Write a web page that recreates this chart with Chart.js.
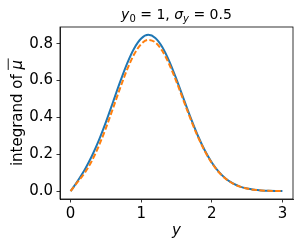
<!doctype html>
<html lang="en">
<head>
  <meta charset="utf-8">
  <title>integrand of mu bar</title>
  <style>
    * { margin: 0; padding: 0; }
    body { background: white; }
    .chartBox { width: 300px; height: 248px; position: relative; }
  </style>
</head>
<body>
<div class="chartBox">
  <canvas id="myChart" width="300" height="248"></canvas>
</div>

<script src="https://cdn.jsdelivr.net/npm/chart.js"></script>
<script>
  // values
  const yValues = [0.0, 0.1, 0.2, 0.3, 0.4, 0.5, 0.6, 0.7, 0.8, 0.9, 1.0,
                   1.1, 1.2, 1.3, 1.4, 1.5, 1.6, 1.7, 1.8, 1.9, 2.0,
                   2.1, 2.2, 2.3, 2.4, 2.5, 2.6, 2.7, 2.8, 2.9, 3.0];
  const exactIntegrand = [0.0, 0.0552, 0.1166, 0.1891, 0.2752, 0.3742, 0.4821, 0.5912, 0.6920, 0.7740, 0.8280,
                          0.8478, 0.8311, 0.7809, 0.7028, 0.6065, 0.5020, 0.3983, 0.3033, 0.2215, 0.1553,
                          0.1045, 0.0675, 0.0418, 0.0249, 0.0142, 0.0078, 0.0041, 0.0021, 0.0010, 0.0005];
  const approxIntegrand = [0.0, 0.0499, 0.0992, 0.1640, 0.2456, 0.3422, 0.4488, 0.5576, 0.6588, 0.7420, 0.7979,
                           0.8203, 0.8068, 0.7599, 0.6855, 0.5927, 0.4913, 0.3904, 0.2976, 0.2177, 0.1527,
                           0.1028, 0.0664, 0.0412, 0.0245, 0.0140, 0.0077, 0.0041, 0.0021, 0.0010, 0.0005];
  const xTicks = [0, 1, 2, 3];
  const yTicks = [0.0, 0.2, 0.4, 0.6, 0.8];

  const FONT = "'DejaVu Sans', sans-serif";

  // draws a list of text runs, {t, italic, sub}, centred on x
  function drawRuns(ctx, runs, x, y, size) {
    ctx.textAlign = 'left';
    ctx.textBaseline = 'alphabetic';
    const fontOf = r => (r.italic ? 'italic ' : '') + Math.round(r.sub ? size * 0.7 : size) + 'px ' + FONT;
    const widths = runs.map(r => {
      ctx.font = fontOf(r);
      return ctx.measureText(r.t).width;
    });
    let cx = x - widths.reduce((a, b) => a + b, 0) / 2;
    runs.forEach((r, i) => {
      ctx.font = fontOf(r);
      ctx.fillText(r.t, cx, r.sub ? y + size * 0.22 : y);
      if (r.bar) {
        ctx.fillRect(cx - 0.5, y - size * 0.95, widths[i] + 2, 0.9);
      }
      cx += widths[i];
    });
  }

  const framePlugin = {
    id: 'frame',
    afterDraw(chart) {
      const { ctx, chartArea: a } = chart;
      ctx.save();
      ctx.strokeStyle = '#000';
      ctx.lineWidth = 0.8;
      ctx.strokeRect(a.left, a.top, a.right - a.left, a.bottom - a.top);
      ctx.fillStyle = '#000';
      const mid = (a.left + a.right) / 2;
      // title
      drawRuns(ctx, [
        { t: 'y', italic: true }, { t: '0', sub: true },
        { t: ' = 1, ' }, { t: 'σ', italic: true }, { t: 'y', italic: true, sub: true },
        { t: ' = 0.5' }
      ], mid, 19, 14);
      // x label
      drawRuns(ctx, [{ t: 'y', italic: true }], mid, 235, 15);
      // y label
      ctx.translate(22, (a.top + a.bottom) / 2);
      ctx.rotate(-Math.PI / 2);
      drawRuns(ctx, [{ t: 'integrand of ' }, { t: 'μ', italic: true, bar: true }], 0, 0, 15);
      ctx.restore();
    }
  };

  const data = {
    datasets: [{
      label: 'exact',
      data: yValues.map((x, i) => ({ x: x, y: exactIntegrand[i] })),
      borderColor: '#1f77b4',
      borderWidth: 2,
      pointRadius: 0,
      cubicInterpolationMode: 'monotone',
      order: 2
    }, {
      label: 'approx',
      data: yValues.map((x, i) => ({ x: x, y: approxIntegrand[i] })),
      borderColor: '#ff7f0e',
      borderWidth: 2,
      borderDash: [5.5, 2.4],
      pointRadius: 0,
      cubicInterpolationMode: 'monotone',
      order: 1
    }]
  };

  const config = {
    type: 'line',
    data,
    options: {
      responsive: false,
      animation: false,
      devicePixelRatio: 1,
      layout: { padding: { top: 27, right: 7, left: 0, bottom: 0 } },
      plugins: {
        legend: { display: false },
        title: { display: false },
        tooltip: { enabled: false }
      },
      scales: {
        x: {
          type: 'linear',
          min: -0.15,
          max: 3.15,
          afterFit: s => { s.height = 49; },
          afterBuildTicks: s => { s.ticks = xTicks.map(v => ({ value: v })); },
          border: { display: true, color: '#000', width: 0.8 },
          grid: { drawOnChartArea: false, drawTicks: true, tickLength: 3.5, tickColor: '#000', tickWidth: 0.8 },
          ticks: {
            color: '#000',
            padding: 3,
            maxRotation: 0,
            font: { family: FONT, size: 15 },
            callback: v => String(v)
          }
        },
        y: {
          type: 'linear',
          min: -0.0424,
          max: 0.8902,
          afterFit: s => { s.width = 60; },
          afterBuildTicks: s => { s.ticks = yTicks.map(v => ({ value: v })); },
          border: { display: true, color: '#000', width: 0.8 },
          grid: { drawOnChartArea: false, drawTicks: true, tickLength: 3.5, tickColor: '#000', tickWidth: 0.8 },
          ticks: {
            color: '#000',
            padding: 3.5,
            font: { family: FONT, size: 15 },
            callback: v => v.toFixed(1)
          }
        }
      }
    },
    plugins: [framePlugin]
  };

  const myChart = new Chart(document.getElementById('myChart'), config);
</script>
</body>
</html>
